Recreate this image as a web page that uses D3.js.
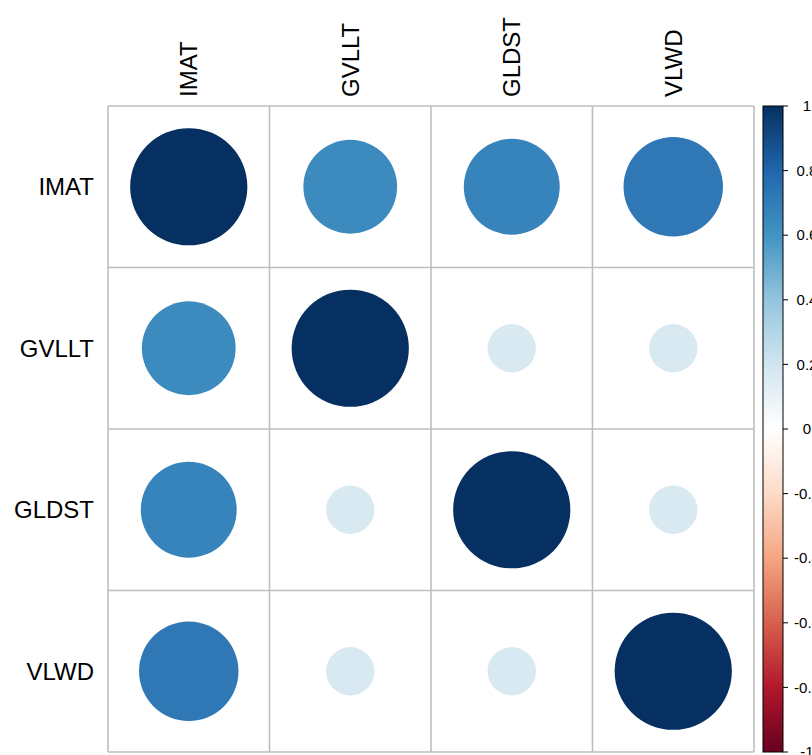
<!DOCTYPE html>
<html>
<head>
<meta charset="utf-8">
<script src="https://d3js.org/d3.v7.min.js"></script>
<style>
  body { margin: 0; background: #fff; }
  text { font-family: "Liberation Sans", Arial, sans-serif; }
</style>
</head>
<body>
<div id="my_dataviz"></div>
<script>

// variables and correlation matrix (rows in the same order)
var vars = ["IMAT", "GVLLT", "GLDST", "VLWD"];
var corrIMAT  = [1.00, 0.64, 0.67, 0.72];
var corrGVLLT = [0.64, 1.00, 0.17, 0.17];
var corrGLDST = [0.67, 0.17, 1.00, 0.17];
var corrVLWD  = [0.72, 0.17, 0.17, 1.00];
var matrix = [corrIMAT, corrGVLLT, corrGLDST, corrVLWD];

// colour legend ticks
var legendTicks = [1, 0.8, 0.6, 0.4, 0.2, 0, -0.2, -0.4, -0.6, -0.8, -1];
var legendLabels = ["1", "0.8", "0.6", "0.4", "0.2", "0", "-0.2", "-0.4", "-0.6", "-0.8", "-1"];

// RdBu palette used by corrplot
var rdbu = ["#67001F", "#B2182B", "#D6604D", "#F4A582", "#FDDBC7", "#FFFFFF",
            "#D1E5F0", "#92C5DE", "#4393C3", "#2166AC", "#053061"];

var width = 812, height = 755;
var gridLeft = 108, gridTop = 106, gridSize = 646;

var svg = d3.select("#my_dataviz")
  .append("svg")
    .attr("width", width)
    .attr("height", height);

var x = d3.scaleBand().domain(vars).range([gridLeft, gridLeft + gridSize]);
var y = d3.scaleBand().domain(vars).range([gridTop, gridTop + gridSize]);

var color = d3.scaleLinear()
  .domain(d3.range(11).map(function(i) { return -1 + i * 0.2; }))
  .range(rdbu)
  .interpolate(d3.interpolateRgb);

var r = d3.scaleSqrt().domain([0, 1]).range([0, 58.6]);

// flatten matrix into cells
var cells = [];
matrix.forEach(function(row, i) {
  row.forEach(function(v, j) {
    cells.push({row: vars[i], col: vars[j], value: v});
  });
});

// circles
svg.append("g")
  .selectAll("circle")
  .data(cells)
  .enter()
  .append("circle")
    .attr("cx", function(d) { return x(d.col) + x.bandwidth() / 2; })
    .attr("cy", function(d) { return y(d.row) + y.bandwidth() / 2; })
    .attr("r", function(d) { return r(Math.abs(d.value)); })
    .attr("fill", function(d) { return color(d.value); });

// grid lines
var grid = svg.append("g")
  .attr("stroke", "#BEBEBE")
  .attr("stroke-width", 1.6)
  .attr("fill", "none");

grid.selectAll(".vline")
  .data(vars.concat(["end"]))
  .enter()
  .append("line")
    .attr("x1", function(d, i) { return gridLeft + i * x.bandwidth(); })
    .attr("x2", function(d, i) { return gridLeft + i * x.bandwidth(); })
    .attr("y1", gridTop)
    .attr("y2", gridTop + gridSize);

grid.selectAll(".hline")
  .data(vars.concat(["end"]))
  .enter()
  .append("line")
    .attr("y1", function(d, i) { return gridTop + i * y.bandwidth(); })
    .attr("y2", function(d, i) { return gridTop + i * y.bandwidth(); })
    .attr("x1", gridLeft)
    .attr("x2", gridLeft + gridSize);

// row labels
svg.append("g")
  .selectAll("text")
  .data(vars)
  .enter()
  .append("text")
    .attr("x", 94)
    .attr("y", function(d) { return y(d) + y.bandwidth() / 2; })
    .attr("dy", "0.35em")
    .attr("text-anchor", "end")
    .attr("font-size", 24)
    .text(function(d) { return d; });

// column labels (rotated)
svg.append("g")
  .selectAll("text")
  .data(vars)
  .enter()
  .append("text")
    .attr("transform", function(d) {
      return "translate(" + (x(d) + x.bandwidth() / 2) + ",97) rotate(-90)";
    })
    .attr("dy", "0.35em")
    .attr("text-anchor", "start")
    .attr("font-size", 24)
    .text(function(d) { return d; });

// colour legend
var barX = 763, barW = 20;
var ly = d3.scaleLinear().domain([1, -1]).range([gridTop, gridTop + gridSize]);

var defs = svg.append("defs");
var grad = defs.append("linearGradient")
  .attr("id", "legendGrad")
  .attr("x1", 0).attr("x2", 0).attr("y1", 0).attr("y2", 1);
d3.range(0, 1.0001, 0.02).forEach(function(t) {
  grad.append("stop")
    .attr("offset", t)
    .attr("stop-color", color(1 - 2 * t));
});

svg.append("rect")
  .attr("x", barX)
  .attr("y", ly(1))
  .attr("width", barW)
  .attr("height", ly(-1) - ly(1))
  .attr("fill", "url(#legendGrad)")
  .attr("stroke", "#000")
  .attr("stroke-width", 1);

var legendAxis = svg.append("g");
legendAxis.selectAll("line")
  .data(legendTicks)
  .enter()
  .append("line")
    .attr("x1", barX + barW)
    .attr("x2", barX + barW + 5)
    .attr("y1", function(d) { return ly(d); })
    .attr("y2", function(d) { return ly(d); })
    .attr("stroke", "#000");

legendAxis.selectAll("text")
  .data(legendTicks)
  .enter()
  .append("text")
    .attr("x", 807)
    .attr("y", function(d) { return ly(d); })
    .attr("dy", "0.35em")
    .attr("text-anchor", "middle")
    .attr("font-size", 15)
    .text(function(d, i) { return legendLabels[i]; });

</script>
</body>
</html>
